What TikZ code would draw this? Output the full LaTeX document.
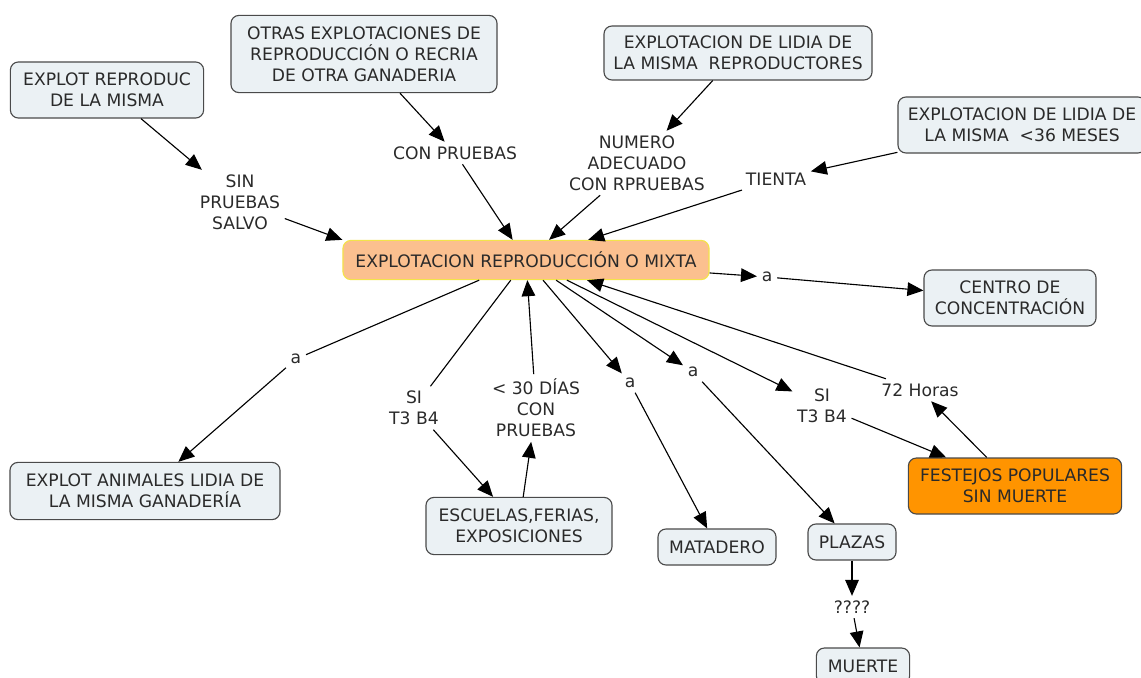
\documentclass[tikz,border=0pt]{standalone}
\usepackage{fontspec}
\setmainfont{DejaVu Sans}
\usetikzlibrary{arrows.meta}
\definecolor{boxfill}{HTML}{EBF1F4}
\definecolor{boxline}{HTML}{4A4A4A}
\definecolor{mainfill}{HTML}{FBC08F}
\definecolor{mainline}{HTML}{F3E34A}
\definecolor{fiesta}{HTML}{FF9400}
\definecolor{ink}{HTML}{2A2A2A}
\tikzset{
  concept/.style={draw=boxline, fill=boxfill, rounded corners=0.2cm, line width=0.8pt,
    align=center, inner sep=2pt, text=ink},
  linkword/.style={align=center, inner sep=3pt, text=ink},
}
\begin{document}
\begin{tikzpicture}[x=0.025cm, y=-0.025cm, font=\fontsize{12.2}{14.9}\selectfont,
    >={Triangle[length=0.4cm,width=0.34cm]}, line width=0.8pt]
      \useasboundingbox (0,0) rectangle (1141,677);
      % concepts
      \node[concept, minimum width=4.83cm, minimum height=1.4cm] (reprod) at (107,90)
        {EXPLOT REPRODUC\\DE LA MISMA};
      \node[concept, minimum width=6.65cm, minimum height=1.93cm] (otras) at (364,54)
        {OTRAS EXPLOTACIONES DE\\REPRODUCCIÓN O RECRIA\\DE OTRA GANADERIA};
      \node[concept, minimum width=6.7cm, minimum height=1.35cm] (lidiarep) at (738,53)
        {EXPLOTACION DE LIDIA DE\\LA MISMA\ \ REPRODUCTORES};
      \node[concept, minimum width=6.2cm, minimum height=1.4cm] (lidiajov) at (1022,125)
        {EXPLOTACION DE LIDIA DE\\LA MISMA\ \ <36 MESES};
      \node[concept, draw=mainline, fill=mainfill, minimum width=9.15cm, minimum height=0.98cm]
        (main) at (526,260) {EXPLOTACION REPRODUCCIÓN O MIXTA};
      \node[concept, minimum width=4.3cm, minimum height=1.4cm] (centro) at (1010,298)
        {CENTRO DE\\CONCENTRACIÓN};
      \node[concept, minimum width=6.75cm, minimum height=1.43cm] (animales) at (145,491)
        {EXPLOT ANIMALES LIDIA DE\\LA MISMA GANADERÍA};
      \node[concept, minimum width=4.65cm, minimum height=1.43cm] (escuelas) at (519,526)
        {ESCUELAS,FERIAS,\\EXPOSICIONES};
      \node[concept, minimum width=2.95cm, minimum height=0.9cm] (matadero) at (717,547)
        {MATADERO};
      \node[concept, minimum width=2.2cm, minimum height=0.9cm] (plazas) at (852,542)
        {PLAZAS};
      \node[concept, minimum width=2.33cm, minimum height=0.9cm] (muerte) at (863,666)
        {MUERTE};
      \node[concept, fill=fiesta, minimum width=5.33cm, minimum height=1.4cm] (festejos) at (1015,486)
        {FESTEJOS POPULARES\\SIN MUERTE};
      % linking words
      \node[linkword] (sin) at (240,202) {SIN\\PRUEBAS\\SALVO};
      \node[linkword] (con) at (455,153) {CON PRUEBAS};
      \node[linkword] (numero) at (637,163) {NUMERO\\ADECUADO\\CON RPRUEBAS};
      \node[linkword] (tienta) at (776,179) {TIENTA};
      \node[linkword] (a1) at (767,277) {a};
      \node[linkword] (a2) at (296,359) {a};
      \node[linkword] (si1) at (414,408) {SI\\T3 B4};
      \node[linkword] (dias) at (536,408) {< 30 DÍAS\\CON\\PRUEBAS};
      \node[linkword] (a3) at (630,383) {a};
      \node[linkword] (a4) at (693,372) {a};
      \node[linkword] (si2) at (822,406) {SI\\T3 B4};
      \node[linkword] (horas) at (920,390) {72 Horas};
      \node[linkword] (dudas) at (852,607) {????};
      % connectors
      \begin{scope}[->]
        \draw (reprod) to (sin);
        \draw (sin) to (main.north west);
        \draw (otras) to (con);
        \draw (con) to (main);
        \draw (lidiarep) to (numero);
        \draw (numero) to (main);
        \draw (lidiajov) to (tienta);
        \draw (tienta) to (main);
        \draw (main) to (a1);
        \draw (a1) to (centro);
        \draw[-] (main) to (a2);
        \draw (a2) to (animales);
        \draw[-] (main) to (si1);
        \draw (si1) to (escuelas);
        \draw (escuelas) to (dias);
        \draw (dias) to (main);
        \draw (main) to (a3);
        \draw (a3) to (matadero);
        \draw (main) to (a4);
        \draw (a4) to (plazas);
        \draw (main) to (si2);
        \draw (si2) to (festejos);
        \draw (festejos) to (horas);
        \draw (horas) to (main);
        \draw (plazas) to (dudas);
        \draw (dudas) to (muerte);
      \end{scope}
    \end{tikzpicture}
\end{document}
